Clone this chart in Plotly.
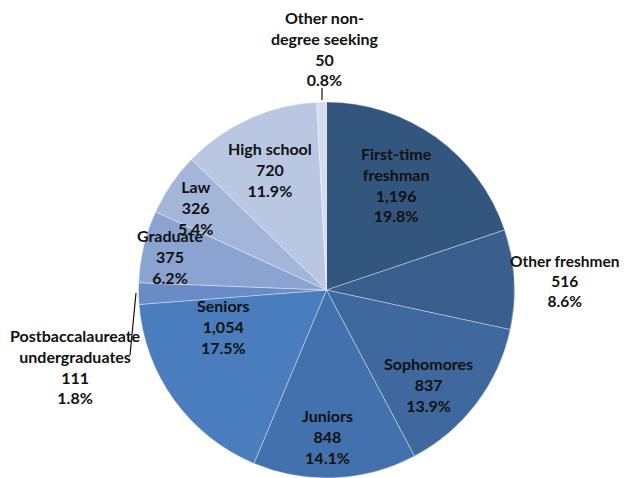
import plotly.graph_objects as go

categories = ["First-time freshman", "Other freshmen", "Sophomores", "Juniors", "Seniors",
              "Postbaccalaureate undergraduates", "Graduate", "Law", "High school",
              "Other non-degree seeking"]
label_text = ["First-time<br>freshman", "Other freshmen", "Sophomores", "Juniors", "Seniors",
              "Postbaccalaureate<br>undergraduates", "Graduate", "Law", "High school",
              "Other non-<br>degree seeking"]
values = [1196, 516, 837, 848, 1054, 111, 375, 326, 720, 50]
colors = ["#33567F", "#3A5F8F", "#3F689F", "#4371AD", "#4A7DBD",
          "#6A8CC6", "#8AA3D0", "#A3B5D9", "#BAC7E3", "#D4DCEE"]

OFF = 8  # page body margin
W, H = 631 - OFF, 478 - OFF
cx, cy, R = 326.5 - OFF, 290 - OFF, 188

# label centre positions in screen pixels and font sizes (styling)
label_pos = [(396, 184), (564, 281), (428, 384), (327, 436), (223, 326),
             (75, 366), (170, 256), (195, 208), (270, 170), (325, 48)]
label_size = [16, 15.5, 16, 16, 16, 16, 16, 16, 16, 16]

total = sum(values)
fig = go.Figure(go.Pie(
    labels=categories, values=values, sort=False, direction="clockwise", rotation=0,
    marker=dict(colors=colors, line=dict(color="rgba(255,255,255,0.6)", width=0.6)),
    textinfo="none", hoverinfo="label+value+percent", showlegend=False,
    domain=dict(x=[(cx - R) / W, (cx + R) / W], y=[(H - cy - R) / H, (H - cy + R) / H]),
))

for name, v, (px, py), fs in zip(label_text, values, label_pos, label_size):
    pct = v / total * 100
    fig.add_annotation(
        x=(px - OFF) / W, y=1 - (py - OFF) / H, xref="paper", yref="paper",
        text=f"<b>{name}<br>{v:,}<br>{pct:.1f}%</b>", showarrow=False,
        font=dict(family="Lato", size=fs, color="#111111"), align="center",
        xanchor="center", yanchor="middle",
    )

# leader lines
for (x0, y0, x1, y1) in [(322, 88, 322, 100), (136, 293, 130, 355)]:
    fig.add_shape(type="line", xref="paper", yref="paper",
                  x0=(x0 - OFF) / W, y0=1 - (y0 - OFF) / H,
                  x1=(x1 - OFF) / W, y1=1 - (y1 - OFF) / H,
                  line=dict(color="#111111", width=1.2))

fig.update_layout(width=W, height=H, margin=dict(l=0, r=0, t=0, b=0),
                  paper_bgcolor="white", plot_bgcolor="white")
fig.write_html("out.html")
